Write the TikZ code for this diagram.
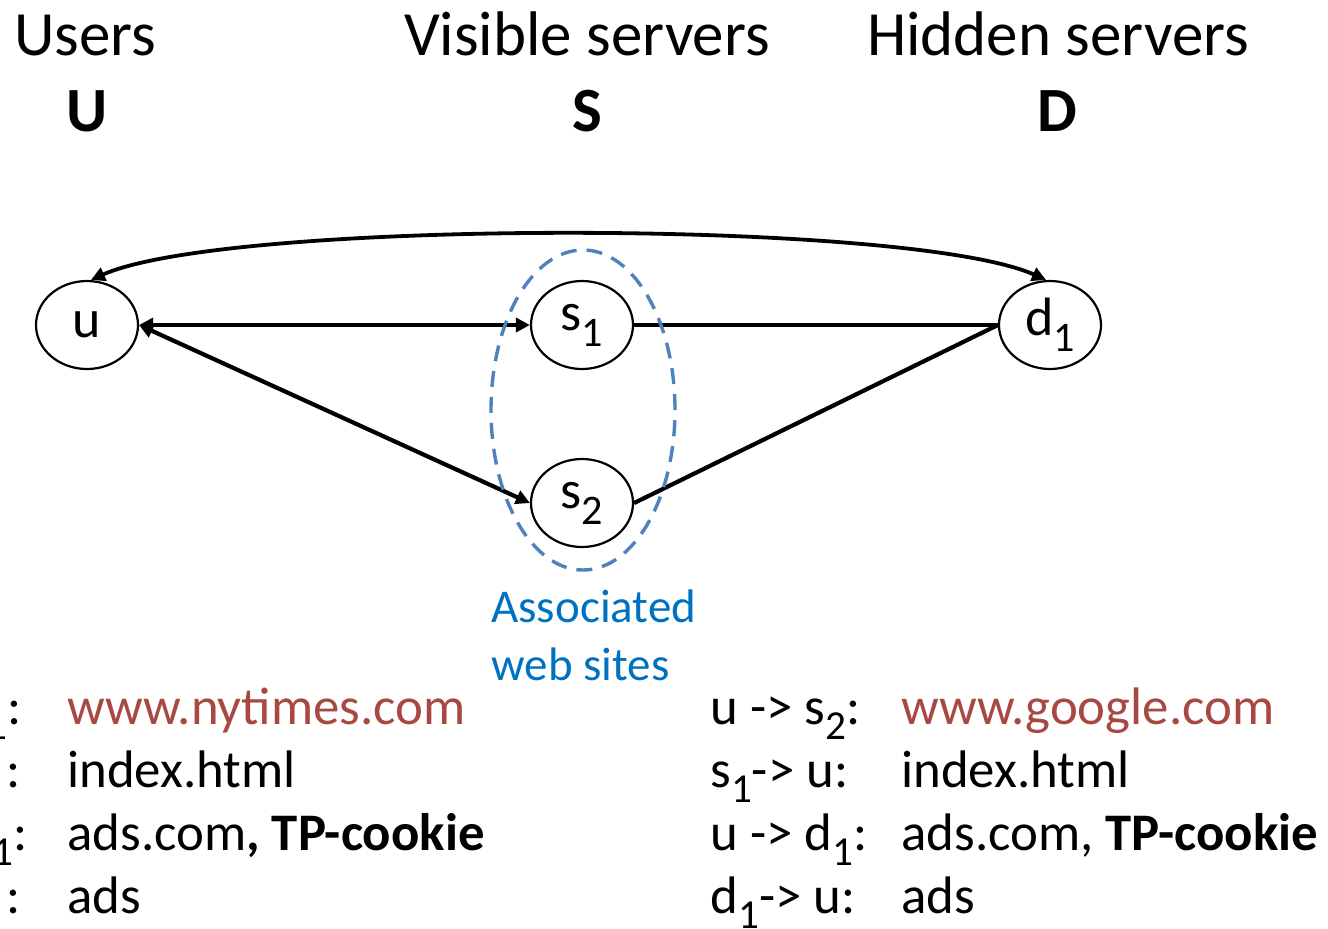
\documentclass[tikz,border=0pt]{standalone}
\usepackage{fontspec}
\setmainfont{Carlito}
\usetikzlibrary{shapes.geometric,arrows.meta}
\definecolor{linkred}{RGB}{168,72,66}
\definecolor{assocblue}{RGB}{0,112,192}
\definecolor{dashblue}{RGB}{79,129,189}
\newcommand\subs[1]{\raisebox{-0.3em}{\scalebox{0.78}{#1}}}
\begin{document}
\begin{tikzpicture}[x=0.5pt,y=-0.5pt,
  vert/.style={ellipse,draw,line width=1.1pt,minimum width=51pt,minimum height=44pt,inner sep=0pt,font=\fontsize{27}{30}\selectfont},
  edge/.style={line width=2.1pt},
  biarrow/.style={edge,{Triangle[length=7pt,width=7pt]}-{Triangle[length=7pt,width=7pt]}},
  head/.style={anchor=base,inner sep=0pt,font=\fontsize{31.5}{36}\selectfont},
  txt/.style={anchor=base west,inner sep=0pt,font=\fontsize{26.4}{30}\selectfont},
  ltxt/.style={anchor=base east,inner sep=0pt,font=\fontsize{26.4}{30}\selectfont},
  assocset/.style={ellipse,draw=dashblue,line width=1.7pt,dash pattern=on 8pt off 5pt,minimum width=92pt,minimum height=160pt,inner sep=0pt}
]
\useasboundingbox (0,0) rectangle (1328,928);
\begin{scope}
\clip (0,0) rectangle (1328,928);
% headings
\node[head] (hU) at (85,55) {Users};
\node[head] (hS) at (587,55) {Visible servers};
\node[head] (hD) at (1058,55) {Hidden servers};
\node[head,font=\fontsize{31.5}{36}\selectfont\bfseries] (lU) at (87,131) {U};
\node[head,font=\fontsize{31.5}{36}\selectfont\bfseries] (lS) at (587,131) {S};
\node[head,font=\fontsize{31.5}{36}\selectfont\bfseries] (lD) at (1057,131) {D};
% vertices
\node[vert] (u) at (87,325) {u};
\node[vert] (s1) at (582,325) {s\subs{1}};
\node[vert] (s2) at (582,503) {s\subs{2}};
\node[vert] (d1) at (1050,325) {d\subs{1}};
% edges
\draw[biarrow] (u.east) -- (s1.west);
\draw[biarrow] (u.east) -- (s2.west);
\draw[edge] (s1.east) -- (d1.west);
\draw[edge] (s2.east) -- (d1.west);
\draw[edge,line width=1.9pt,{Triangle[length=7pt,width=7pt]}-{Triangle[length=7pt,width=7pt]}]
  ([xshift=2pt]u.north) .. controls +(137,-61) and +(-137,-61) .. ([xshift=-2pt]d1.north);
% associated set
\node[assocset] (assoc) at (583,410) {};
\node[anchor=base west,inner sep=0pt,text=assocblue,align=left,font=\fontsize{23.5}{29}\selectfont] (assoclbl) at (491,680) {Associated\\web sites};
% left column (clipped by the picture edge)
\node[ltxt] (l1) at (22,724) {u -> s\subs{1}:};
\node[ltxt] (l2) at (21,787) {s\subs{1}-> u :};
\node[ltxt] (l3) at (28,850) {u -> d\subs{1}:};
\node[ltxt] (l4) at (21,913) {d\subs{1}-> u :};
\node[txt,text=linkred] (v1) at (67,724) {www.nytimes.com};
\node[txt] (v2) at (67,787) {index.html};
\node[txt] (v3) at (67,850) {ads.com\textbf{, TP-cookie}};
\node[txt] (v4) at (67,913) {ads};
% right column
\node[txt] (r1) at (710,724) {u -> s\subs{2}:};
\node[txt] (r2) at (710,787) {s\subs{1}-> u:};
\node[txt] (r3) at (710,850) {u -> d\subs{1}:};
\node[txt] (r4) at (710,913) {d\subs{1}-> u:};
\node[txt,text=linkred] (w1) at (901,724) {www.google.com};
\node[txt] (w2) at (901,787) {index.html};
\node[txt] (w3) at (901,850) {ads.com, \textbf{TP-cookie}};
\node[txt] (w4) at (901,913) {ads};
\end{scope}
\end{tikzpicture}
\end{document}
